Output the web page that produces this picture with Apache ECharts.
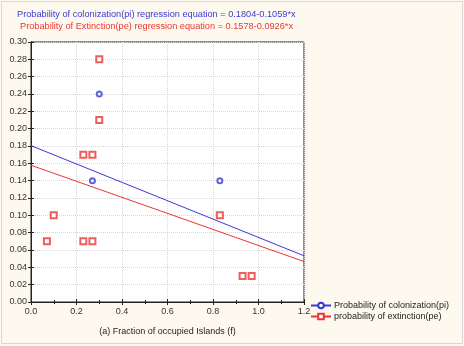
<!DOCTYPE html>
<html><head><meta charset="utf-8">
<script src="https://cdn.jsdelivr.net/npm/echarts@6/dist/echarts.min.js"></script>
<style>html,body{margin:0;padding:0;background:#fdf9ee;}#c{width:464px;height:346px;}</style>
</head><body><div id="c"></div>
<script>
const titleColonization = 'Probability of colonization(pi) regression equation = 0.1804-0.1059*x';
const titleExtinction = 'Probability of Extinction(pe) regression equation = 0.1578-0.0926*x';
const nameCol = 'Probability of colonization(pi)';
const nameExt = 'probability of extinction(pe)';
const xAxisName = '(a) Fraction of occupied Islands (f)';
const colonizationPoints = [[0.30,0.24],[0.27,0.14],[0.83,0.14]];
const extinctionPoints = [[0.30,0.28],[0.30,0.21],[0.23,0.17],[0.27,0.17],[0.10,0.10],[0.07,0.07],[0.23,0.07],[0.27,0.07],[0.83,0.10],[0.93,0.03],[0.97,0.03]];
const colonizationLine = [[0,0.1804],[1.2,0.0533]];
const extinctionLine = [[0,0.1578],[1.2,0.0467]];
const blue = '#3a3ad6', red = '#ec3535';
const font = 'Liberation Sans, Arial, sans-serif';
const chart = echarts.init(document.getElementById('c'));
const axisLine = {show:true, lineStyle:{color:'#222', width:1}};
chart.setOption({
  backgroundColor:'#fdf9ee',
  animation:false,
  title:[
    {text:titleColonization, left:17, top:10, padding:0, textStyle:{fontSize:9.2, fontWeight:'normal', color:blue, fontFamily:font}},
    {text:titleExtinction, left:20, top:22, padding:0, textStyle:{fontSize:9.2, fontWeight:'normal', color:red, fontFamily:font}}
  ],
  graphic:[{type:'rect', shape:{x:1.5,y:1.5,width:461,height:342}, style:{fill:null, stroke:'#d8d8d8', lineWidth:1}, silent:true}],
  legend:{orient:'vertical', left:310, top:301, padding:0, itemWidth:20, itemHeight:7, itemGap:2,
    textStyle:{fontSize:9, color:'#222', fontFamily:font, padding:[0,0,0,-2]},
    data:[nameCol, nameExt]},
  grid:{left:31, right:160, top:42, bottom:44, show:true, backgroundColor:'#fff', borderColor:'#222', borderWidth:1},
  xAxis:[
    {type:'value', min:0, max:1.2, interval:0.2, name:xAxisName, nameLocation:'middle', nameGap:25,
     nameTextStyle:{fontSize:9, color:'#222', fontFamily:font},
     axisLine:axisLine, axisTick:{inside:true, length:3, lineStyle:{color:'#222'}},
     minorTick:{show:true, splitNumber:2, length:2, lineStyle:{color:'#222'}},
     axisLabel:{fontSize:9, color:'#333', fontFamily:font, margin:5, formatter:v=>v.toFixed(1)},
     splitLine:{show:true, lineStyle:{color:'#d6d6d6', type:'dotted'}}},
    {type:'value', min:0, max:1.2, interval:0.2, position:'top', axisLine:axisLine,
     axisTick:{inside:true, length:3, lineStyle:{color:'#222'}},
     minorTick:{show:true, splitNumber:2, length:2, lineStyle:{color:'#222'}},
     axisLabel:{show:false}, splitLine:{show:false}}
  ],
  yAxis:[
    {type:'value', min:0, max:0.3, interval:0.02,
     axisLine:axisLine, axisTick:{inside:true, length:3, lineStyle:{color:'#222'}},
     axisLabel:{fontSize:9, color:'#333', fontFamily:font, margin:4, formatter:v=>v.toFixed(2)},
     splitLine:{show:true, lineStyle:{color:'#d6d6d6', type:'dotted'}}},
    {type:'value', min:0, max:0.3, interval:0.02, position:'right', axisLine:axisLine,
     axisTick:{inside:true, length:3, lineStyle:{color:'#222'}},
     axisLabel:{show:false}, splitLine:{show:false}}
  ],
  series:[
    {name:nameCol, type:'line', data:colonizationLine, symbol:'emptyCircle', symbolSize:5, showSymbol:false,
     lineStyle:{color:blue, width:1}, itemStyle:{color:blue}, z:2},
    {name:nameExt, type:'line', data:extinctionLine, symbol:'emptyRect', symbolSize:6, showSymbol:false,
     lineStyle:{color:red, width:1}, itemStyle:{color:red}, z:2},
    {name:nameCol, type:'scatter', data:colonizationPoints, symbol:'emptyCircle', symbolSize:5,
     itemStyle:{color:blue, borderColor:blue, borderWidth:1}, z:3},
    {name:nameExt, type:'scatter', data:extinctionPoints, symbol:'emptyRect', symbolSize:6,
     itemStyle:{color:red, borderColor:red, borderWidth:1}, z:3}
  ]
});
</script></body></html>
